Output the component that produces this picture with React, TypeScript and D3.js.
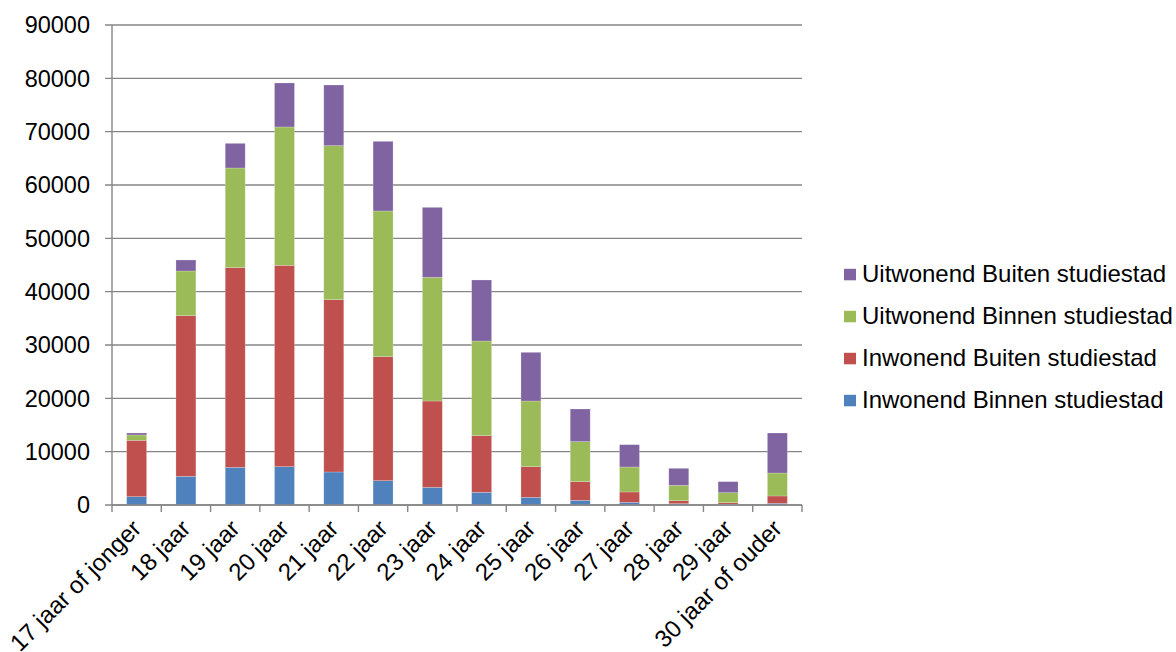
import React from "react";
import * as d3 from "d3";

const categories = [
  "17 jaar of jonger", "18 jaar", "19 jaar", "20 jaar", "21 jaar", "22 jaar", "23 jaar",
  "24 jaar", "25 jaar", "26 jaar", "27 jaar", "28 jaar", "29 jaar", "30 jaar of ouder",
];
const inwonendBinnen = [1560, 5380, 7060, 7190, 6190, 4560, 3310, 2380, 1440, 880, 500, 250, 150, 310];
const inwonendBuiten = [10570, 30120, 37440, 37750, 32310, 23250, 16190, 10620, 5750, 3500, 1940, 560, 290, 1380];
const uitwonendBinnen = [1000, 8375, 18690, 25940, 28880, 27320, 23190, 17750, 12310, 7500, 4690, 2880, 1870, 4310];
const uitwonendBuiten = [375, 2065, 4620, 8250, 11370, 13060, 13120, 11440, 9130, 6120, 4180, 3190, 2070, 7500];
const yTicks = [0, 10000, 20000, 30000, 40000, 50000, 60000, 70000, 80000, 90000];

const seriesNames = [
  "Inwonend Binnen studiestad",
  "Inwonend Buiten studiestad",
  "Uitwonend Binnen studiestad",
  "Uitwonend Buiten studiestad",
];
const seriesColors = ["#4F81BD", "#C0504D", "#9BBB59", "#8064A2"];

export default function App() {
  const W = 1176, H = 652;
  const left = 112, right = 802, top = 25, bottom = 505;
  const font = "'Liberation Sans', Arial, sans-serif";

  const x = d3.scaleBand<string>().domain(categories).range([left, right]).padding(0);
  const y = d3.scaleLinear().domain([0, 90000]).range([bottom, top]);
  const barW = x.bandwidth() * 0.405;

  const rows = categories.map((c, i) => ({
    cat: c,
    s0: inwonendBinnen[i],
    s1: inwonendBuiten[i],
    s2: uitwonendBinnen[i],
    s3: uitwonendBuiten[i],
  }));
  const stack = d3.stack<any>().keys(["s0", "s1", "s2", "s3"]);
  const layers = stack(rows);

  const tickXs = categories.map((c) => x(c)!).concat([right]);

  return (
    <svg width={W} height={H} style={{ position: "absolute", left: 0, top: 0, background: "#fff" }}>
      <rect x={0} y={0} width={W} height={H} fill="#fff" />
      {yTicks.map((t) => (
        <g key={t}>
          <line x1={105} x2={right} y1={y(t)} y2={y(t)} stroke="#868686" strokeWidth={1.4} />
          <text x={90} y={y(t)} dy="0.36em" textAnchor="end" fontFamily={font} fontSize={23.5} fill="#000">
            {t}
          </text>
        </g>
      ))}
      {layers.map((layer, li) => (
        <g key={li} fill={seriesColors[li]}>
          {layer.map((d, i) => (
            <rect
              key={i}
              x={x(categories[i])! + (x.bandwidth() - barW) / 2}
              y={y(d[1])}
              width={barW}
              height={Math.max(0, y(d[0]) - y(d[1]))}
              stroke="rgba(255,255,255,0.35)"
              strokeWidth={0.6}
            />
          ))}
        </g>
      ))}
      <line x1={left} x2={left} y1={top} y2={bottom} stroke="#868686" strokeWidth={1.4} />
      <line x1={left} x2={right} y1={bottom} y2={bottom} stroke="#868686" strokeWidth={1.4} />
      {tickXs.map((tx, i) => (
        <line key={i} x1={tx} x2={tx} y1={bottom} y2={bottom + 7} stroke="#868686" strokeWidth={1.4} />
      ))}
      {categories.map((c) => {
        const cx = x(c)! + x.bandwidth() / 2 + 6;
        const cy = bottom + 25;
        return (
          <text
            key={c}
            x={cx}
            y={cy}
            textAnchor="end"
            transform={`rotate(-45 ${cx} ${cy})`}
            fontFamily={font}
            fontSize={24}
            fill="#000"
          >
            {c}
          </text>
        );
      })}
      {[3, 2, 1, 0].map((si, k) => {
        const by = 282.3 + k * 42;
        return (
          <g key={si}>
            <rect x={844} y={by - 13.5} width={12} height={11.5} fill={seriesColors[si]} />
            <text x={862} y={by} fontFamily={font} fontSize={24} fill="#000">
              {seriesNames[si]}
            </text>
          </g>
        );
      })}
    </svg>
  );
}
